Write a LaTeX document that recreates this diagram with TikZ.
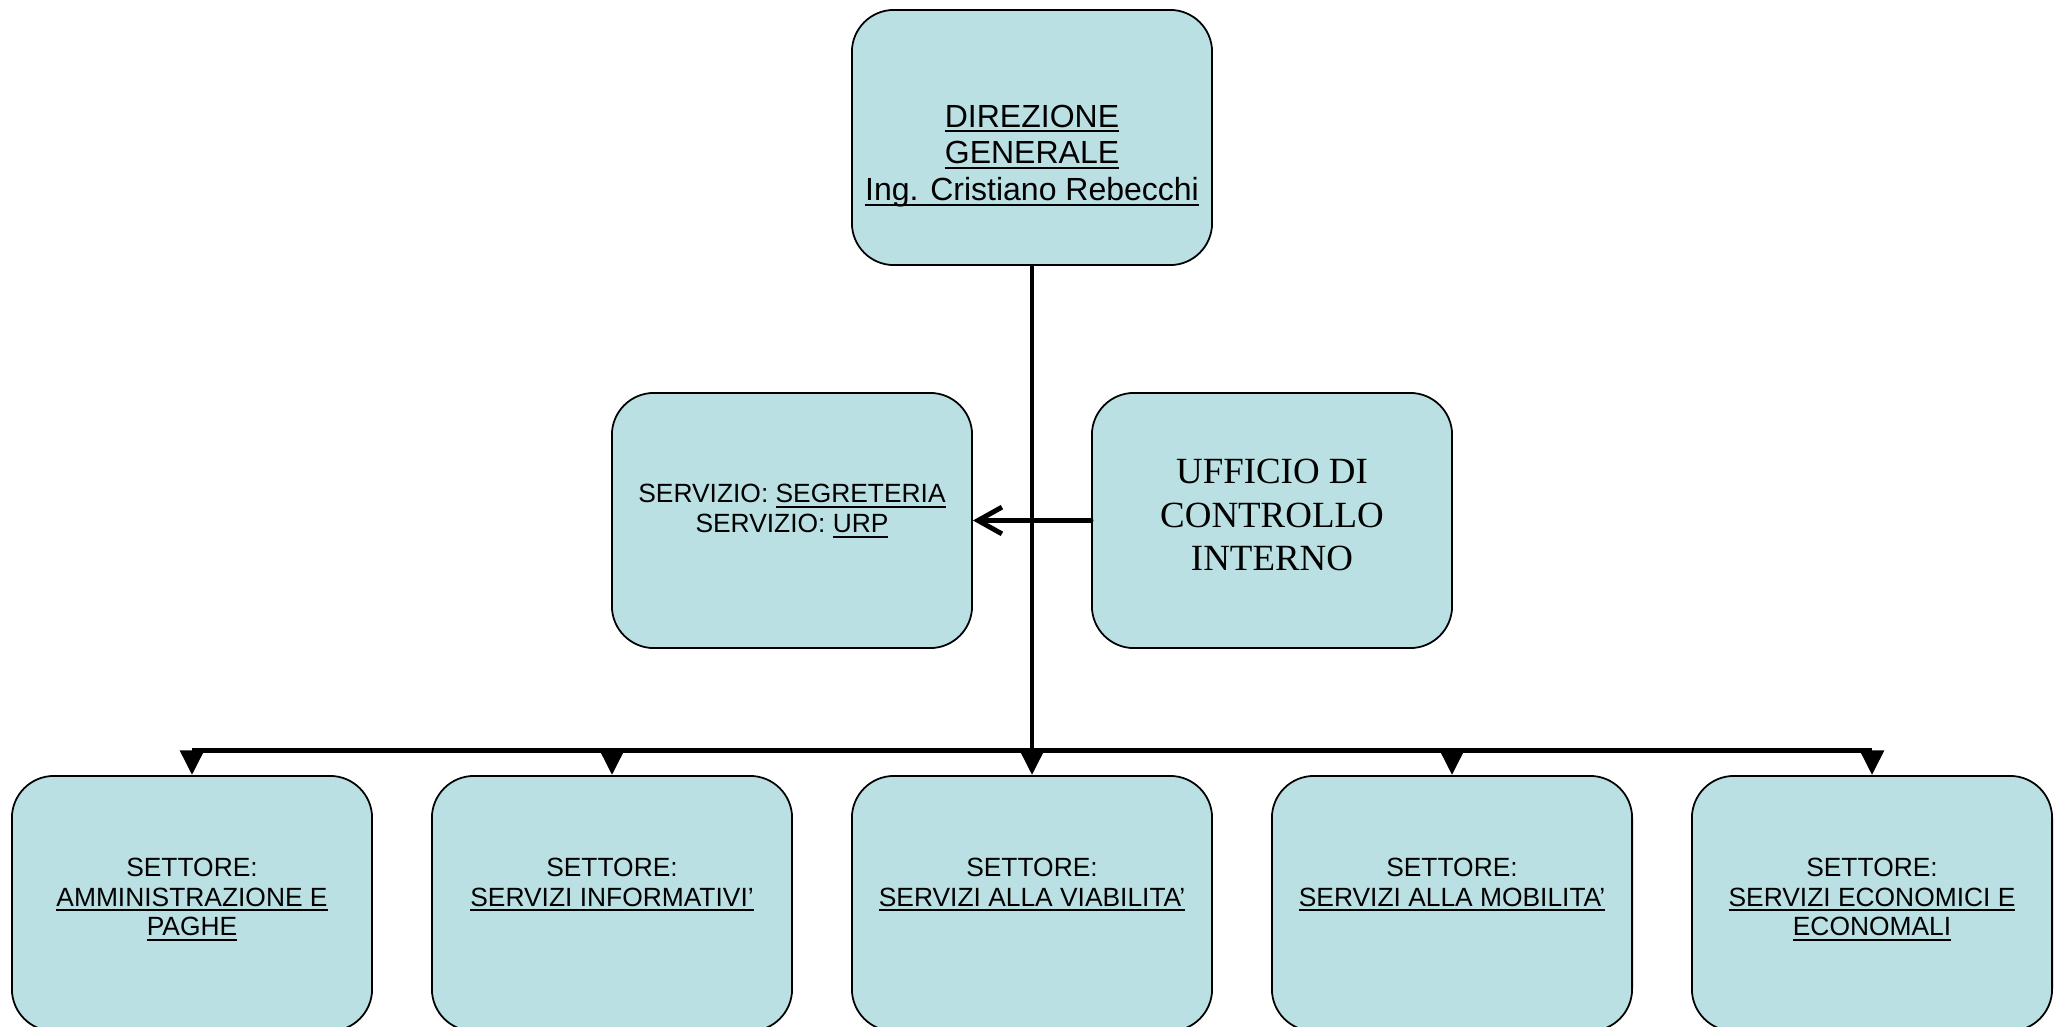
\documentclass[tikz,border=0pt]{standalone}
\usepackage{fontspec}
\setmainfont{Liberation Sans}
\newfontfamily\timesfont{Liberation Serif}
\usepackage{tikz}
\usetikzlibrary{positioning, arrows.meta}
\usepackage{xcolor}
\definecolor{boxfill}{RGB}{186,224,227}
% underline at a fixed depth
\newsavebox{\ulnbox}
\newcommand{\uln}[1]{\sbox{\ulnbox}{#1}\rlap{\rule[-1.45pt]{\wd\ulnbox}{0.55pt}}\usebox{\ulnbox}}

\begin{document}
\begin{tikzpicture}[x=0.01cm, y=-0.01cm,
		box/.style={draw, line width=0.5pt, fill=boxfill, rounded corners=0.42cm,
			minimum width=3.6cm, minimum height=2.55cm, inner sep=0pt},
		txt/.style={align=center, inner sep=0pt},
		small/.style={font=\fontsize{7.5}{8.5}\selectfont},
		conn/.style={line width=1.4pt},
		down/.style={conn, -{Triangle[length=7pt,width=6.6pt]}}]
	\useasboundingbox (0,0) rectangle (2063,1027);
	% boxes
	\node[box] (dg) at (1032,137.5) {};
	\node[box] (seg) at (792,520.5) {};
	\node[box] (uci) at (1272,520.5) {};
	\node[box] (s1) at (192,903.5) {};
	\node[box] (s2) at (612,903.5) {};
	\node[box] (s3) at (1032,903.5) {};
	\node[box] (s4) at (1452,903.5) {};
	\node[box] (s5) at (1872,903.5) {};
	% texts
	\node[txt, font=\fontsize{9.1}{10.4}\selectfont] (dgtext) at (1032,156)
		{\uln{DIREZIONE}\\ \uln{GENERALE}\\ \uln{Ing. Cristiano Rebecchi}};
	\node[txt, small] (segtext) at (792,511)
		{SERVIZIO: \uln{SEGRETERIA}\\ SERVIZIO: \uln{URP}};
	\node[txt, font=\timesfont\fontsize{10.5}{12.4}\selectfont] (ucitext) at (1272,515)
		{UFFICIO DI\\ CONTROLLO\\ INTERNO};
	\node[txt, small, anchor=north] (s1text) at (192,857)
		{SETTORE:\\ \uln{AMMINISTRAZIONE E}\\ \uln{PAGHE}};
	\node[txt, small, anchor=north] (s2text) at (612,857)
		{SETTORE:\\ \uln{SERVIZI INFORMATIVI’}};
	\node[txt, small, anchor=north] (s3text) at (1032,857)
		{SETTORE:\\ \uln{SERVIZI ALLA VIABILITA’}};
	\node[txt, small, anchor=north] (s4text) at (1452,857)
		{SETTORE:\\ \uln{SERVIZI ALLA MOBILITA’}};
	\node[txt, small, anchor=north] (s5text) at (1872,857)
		{SETTORE:\\ \uln{SERVIZI ECONOMICI E}\\ \uln{ECONOMALI}};
	% connectors
	\coordinate (bus) at (1032,750.5);
	\draw[conn] (s1.north |- bus) -- (s5.north |- bus);
	\draw[down] (dg.south) -- (s3.north);
	\draw[down] (s1.north |- bus) -- (s1.north);
	\draw[down] (s2.north |- bus) -- (s2.north);
	\draw[down] (s4.north |- bus) -- (s4.north);
	\draw[down] (s5.north |- bus) -- (s5.north);
	\draw[conn, line cap=round, -{Straight Barb[length=6.8pt,width=7.6pt]}] (uci.west) -- (seg.east);
\end{tikzpicture}
\end{document}
